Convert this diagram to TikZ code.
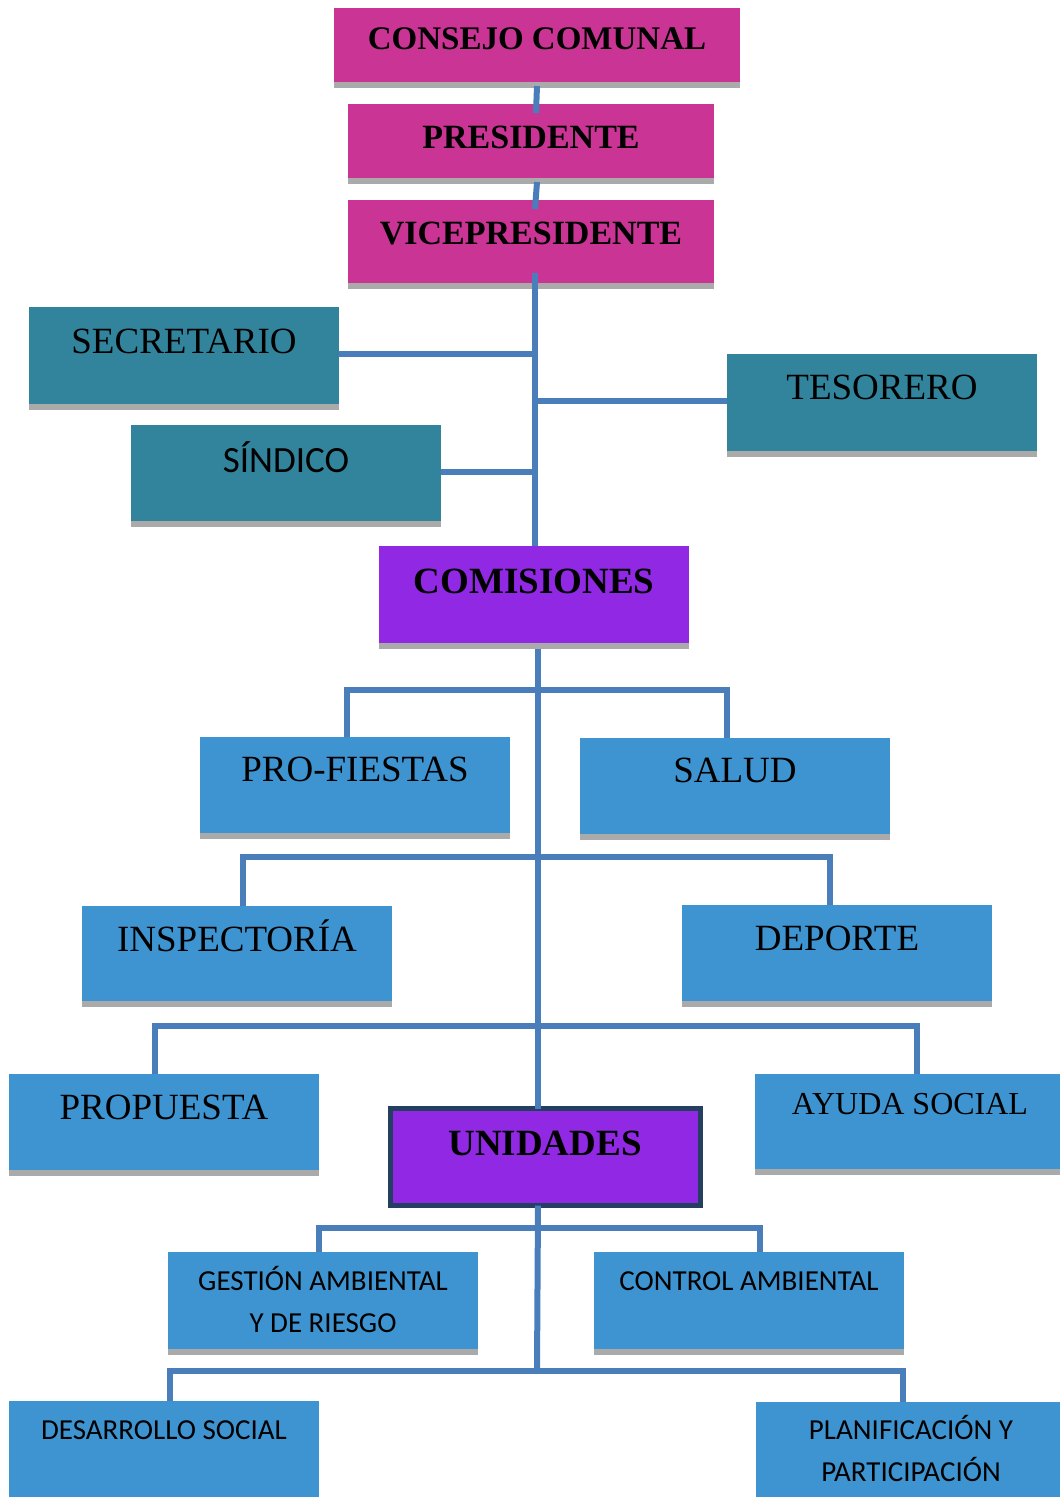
\documentclass[tikz,border=0pt]{standalone}
\usepackage{fontspec}
\setmainfont{Liberation Serif}
\newfontfamily\calibfont{Carlito}
\usetikzlibrary{shadows}
\definecolor{cMag}{RGB}{201,52,149}
\definecolor{cTeal}{RGB}{49,132,155}
\definecolor{cPur}{RGB}{145,40,227}
\definecolor{cBlue}{RGB}{62,148,208}
\definecolor{cLine}{RGB}{74,126,187}
\definecolor{cShadow}{RGB}{170,170,170}
\definecolor{cUniDark}{RGB}{36,63,96}
\newcommand\fB[1]{\fontsize{#1}{42}\selectfont\bfseries}
\newcommand\fR[1]{\fontsize{#1}{42}\selectfont}
\newcommand\fC[1]{\fontsize{#1}{42}\selectfont\calibfont}
\tikzset{
  boxbase/.style={inner sep=0pt, outer sep=0pt},
  shad/.style={general shadow={fill=cShadow, shadow xshift=0pt, shadow yshift=-5.5pt}},
  magfill/.style={boxbase, shad, fill=cMag},
  tealfill/.style={boxbase, shad, fill=cTeal},
  purfill/.style={boxbase, shad, fill=cPur},
  bluefill/.style={boxbase, shad, fill=cBlue},
  unifill/.style={boxbase, fill=cPur, draw=cUniDark, line width=5pt},
  conn/.style={draw=cLine, line width=6pt},
  lbl/.style={anchor=base, inner sep=0pt, align=center, text=black},
}
% name, style, x1, y1, x2, y2, font, text, baseline (of last line)
\newcommand\orgbox[9]{%
  \node[#2, minimum width={#5-#3}, minimum height={#6-#4}] (#1) at ({(#3+#5)/2},{(#4+#6)/2}) {};
  \node[lbl, font=#7] (#1-t) at ({(#3+#5)/2},#9) {#8};
}
\begin{document}
\begin{tikzpicture}[x=1pt, y=-1pt]
\useasboundingbox (0,0) rectangle (1060,1497);

% boxes
\orgbox{cc}{magfill}{334}{8}{740}{82}{\fB{33}}{CONSEJO COMUNAL}{49}
\orgbox{pres}{magfill}{348}{104}{714}{178}{\fB{34}}{PRESIDENTE}{148}
\orgbox{vice}{magfill}{348}{200}{714}{283}{\fB{34}}{VICEPRESIDENTE}{244}
\orgbox{sec}{tealfill}{29}{307}{339}{404}{\fR{37}}{SECRETARIO}{353}
\orgbox{tes}{tealfill}{727}{354}{1037}{451}{\fR{37}}{TESORERO}{399}
\orgbox{sin}{tealfill}{131}{425}{441}{521}{\fC{37}}{SÍNDICO}{472}
\orgbox{com}{purfill}{379}{546}{689}{643}{\fB{37}}{COMISIONES}{593}
\orgbox{pf}{bluefill}{200}{737}{510}{833}{\fR{37}}{PRO-FIESTAS}{781}
\orgbox{sal}{bluefill}{580}{738}{890}{834}{\fR{37}}{SALUD}{782}
\orgbox{ins}{bluefill}{82}{906}{392}{1001}{\fR{37}}{INSPECTORÍA}{951}
\orgbox{dep}{bluefill}{682}{905}{992}{1001}{\fR{37}}{DEPORTE}{950}
\orgbox{pro}{bluefill}{9}{1074}{319}{1170}{\fR{37}}{PROPUESTA}{1119}
\orgbox{uni}{unifill}{390}{1108.5}{700}{1205.5}{\fB{37}}{UNIDADES}{1155}
\orgbox{ayu}{bluefill}{755}{1074}{1065}{1169}{\fR{32}}{AYUDA SOCIAL}{1114}
\orgbox{ges}{bluefill}{168}{1252}{478}{1349}{\fC{29}}{GESTIÓN AMBIENTAL\\Y DE RIESGO}{1332}
\orgbox{con}{bluefill}{594}{1252}{904}{1349}{\fC{29}}{CONTROL AMBIENTAL}{1290}
\orgbox{des}{bluefill}{9}{1401}{319}{1498}{\fC{29}}{DESARROLLO SOCIAL}{1439}
\orgbox{pla}{bluefill}{756}{1402}{1066}{1499}{\fC{29}}{PLANIFICACIÓN Y\\PARTICIPACIÓN}{1481}

% coordinates for trunks and buses
\coordinate (tr) at (535,300);
\coordinate (b1) at (538,690);
\coordinate (b2) at (538,857);
\coordinate (b3) at (537,1026);
\coordinate (b4) at (537,1228);
\coordinate (b5) at (537,1371);

% top chain
\draw[conn] ([yshift=-4pt]cc.south) -- ([xshift=5pt,yshift=-9pt]pres.north);
\draw[conn] ([xshift=6pt,yshift=-4pt]pres.south) -- ([xshift=4pt,yshift=-9pt]vice.north);
\draw[conn] ([xshift=4pt,yshift=10pt]vice.south) -- ([xshift=1pt]com.north);

% side branches
\draw[conn] ([yshift=1.5pt]sec.east) -- ([yshift=1.5pt]sec.east -| tr);
\draw[conn] ([yshift=1.5pt]tes.west) -- ([yshift=1.5pt]tes.west -| tr);
\draw[conn] ([yshift=1pt]sin.east) -- ([yshift=1pt]sin.east -| tr);

% comisiones to unidades
\draw[conn] ([xshift=4pt,yshift=-5.5pt]com.south) -- ([xshift=-7pt]uni.north);

% comisiones buses
\draw[conn] ([xshift=-8pt]pf.north) |- (b1) -| ([xshift=-8pt]sal.north);
\draw[conn] ([xshift=6pt]ins.north) |- (b2) -| ([xshift=-7pt]dep.north);
\draw[conn] ([xshift=-9pt]pro.north) |- (b3) -| ([xshift=7pt]ayu.north);

% unidades
\draw[conn] ([xshift=-7pt]uni.south) -- (b5);
\draw[conn] ([xshift=-4pt]ges.north) |- (b4) -| ([xshift=11pt]con.north);
\draw[conn] ([xshift=6pt]des.north) |- (b5) -| ([xshift=-8pt]pla.north);
\end{tikzpicture}
\end{document}
